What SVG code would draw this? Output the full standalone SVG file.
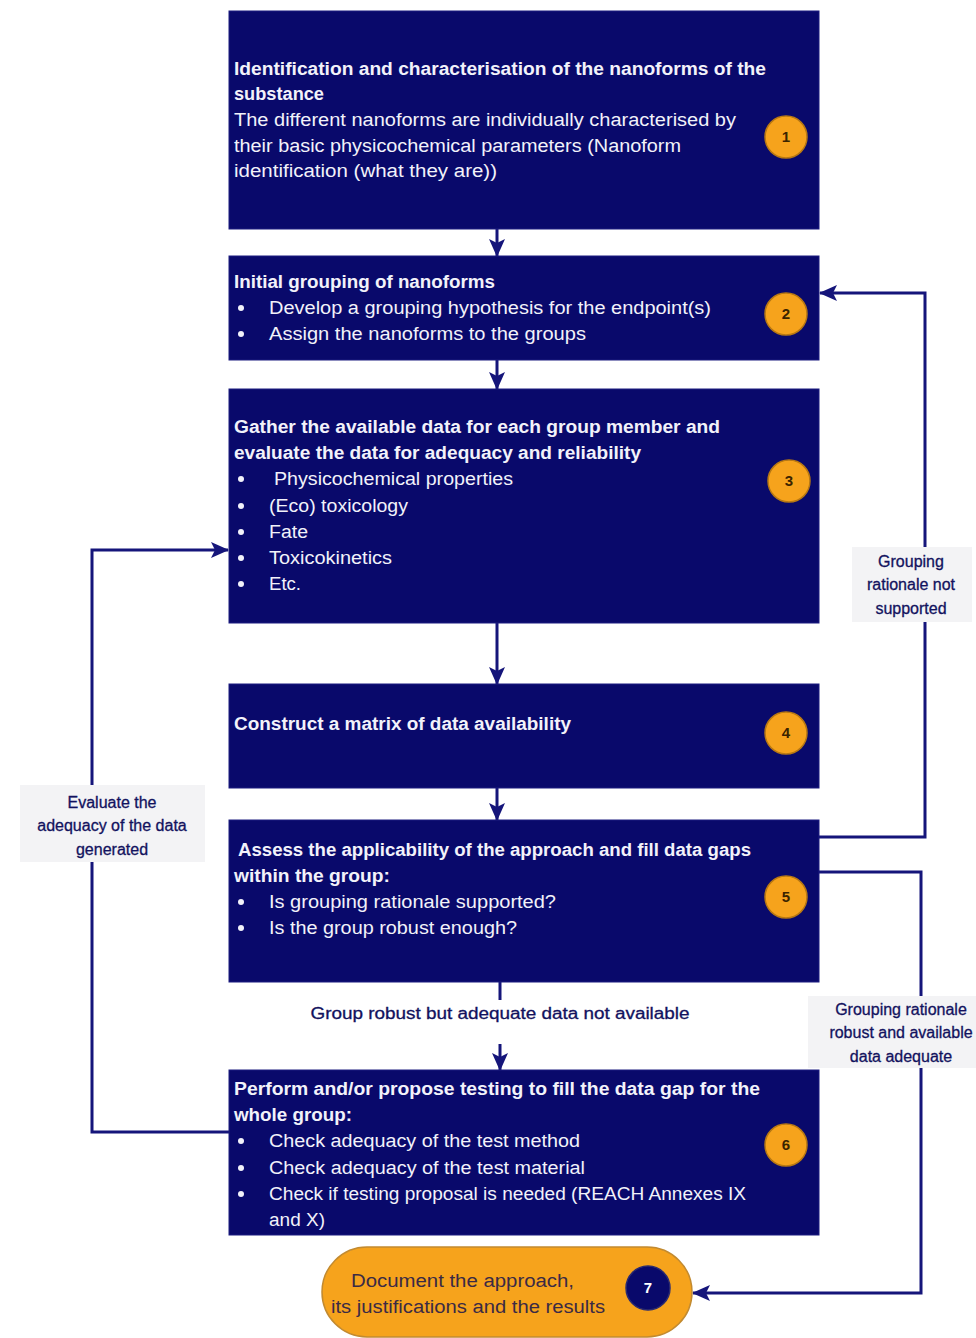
<svg xmlns="http://www.w3.org/2000/svg" width="976" height="1338" viewBox="0 0 976 1338">
<style>
.box{fill:#09096b;stroke:#1c1c80;stroke-width:1}
.t{font-family:"Liberation Sans",Arial,sans-serif;font-size:18px;fill:#f2f2fa}
.b{font-weight:bold}
.dot{fill:#f2f2fa}
.num{fill:#f6a31c;stroke:#b87812;stroke-width:1.5}
.nt{font-family:"Liberation Sans",Arial,sans-serif;font-size:15px;font-weight:bold;fill:#3a2400;text-anchor:middle}
.con{fill:none;stroke:#15157a;stroke-width:3}
.lbg{fill:#f3f3f5}
.lt{font-family:"Liberation Sans",Arial,sans-serif;font-size:16px;fill:#12125e;text-anchor:middle;stroke:#12125e;stroke-width:0.3}
.pt{font-family:"Liberation Sans",Arial,sans-serif;font-size:18px;fill:#3b2a45}
</style>
<defs>
<marker id="ah" markerUnits="userSpaceOnUse" markerWidth="18" markerHeight="18" viewBox="0 0 18 18" refX="17" refY="9" orient="auto">
<path d="M0,1 L18,9 L0,17 L4,9 Z" fill="#15157a"/>
</marker>
</defs>
<rect width="976" height="1338" fill="#ffffff"/>

<g id="connectors">
<line class="con" x1="497" y1="229" x2="497" y2="256" marker-end="url(#ah)"/>
<line class="con" x1="497" y1="360" x2="497" y2="389" marker-end="url(#ah)"/>
<line class="con" x1="497" y1="623" x2="497" y2="684" marker-end="url(#ah)"/>
<line class="con" x1="497" y1="788" x2="497" y2="820" marker-end="url(#ah)"/>
<line class="con" x1="500" y1="982" x2="500" y2="1000"/>
<line class="con" x1="500" y1="1044" x2="500" y2="1070" marker-end="url(#ah)"/>
<polyline class="con" points="819,837 925,837 925,293 820,293" marker-end="url(#ah)"/>
<polyline class="con" points="819,872 921,872 921,1293 693,1293" marker-end="url(#ah)"/>
<polyline class="con" points="229,1132 92,1132 92,550 228,550" marker-end="url(#ah)"/>
</g>

<g id="label-not-supported">
<rect class="lbg" x="852" y="547" width="120" height="75"/>
<text class="lt" x="911" y="567">Grouping</text>
<text class="lt" x="911" y="590">rationale not</text>
<text class="lt" x="911" y="614">supported</text>
</g>
<g id="label-evaluate">
<rect class="lbg" x="20" y="785" width="185" height="77"/>
<text class="lt" x="112" y="808">Evaluate the</text>
<text class="lt" x="112" y="831">adequacy of the data</text>
<text class="lt" x="112" y="855">generated</text>
</g>
<g id="label-adequate">
<rect class="lbg" x="808" y="996" width="168" height="72"/>
<text class="lt" x="901" y="1015">Grouping rationale</text>
<text class="lt" x="901" y="1038">robust and available</text>
<text class="lt" x="901" y="1062">data adequate</text>
</g>
<g id="label-robust">
<text class="lt" x="500" y="1019" textLength="379" lengthAdjust="spacingAndGlyphs">Group robust but  adequate data not available</text>
</g>

<g id="node1">
<rect class="box" x="229" y="11" width="590" height="218"/>
<text class="t b" x="234" y="75" textLength="532" lengthAdjust="spacingAndGlyphs">Identification  and characterisation of the nanoforms of the</text>
<text class="t b" x="234" y="100" textLength="90" lengthAdjust="spacingAndGlyphs">substance</text>
<text class="t" x="234" y="126" textLength="502" lengthAdjust="spacingAndGlyphs">The different nanoforms are individually characterised by</text>
<text class="t" x="234" y="152" textLength="447" lengthAdjust="spacingAndGlyphs">their basic physicochemical parameters (Nanoform</text>
<text class="t" x="234" y="177" textLength="263" lengthAdjust="spacingAndGlyphs">identification (what they are))</text>
<circle class="num" cx="786" cy="137" r="21"/>
<text class="nt" x="786" y="142">1</text>
</g>

<g id="node2">
<rect class="box" x="229" y="256" width="590" height="104"/>
<text class="t b" x="234" y="288" textLength="261" lengthAdjust="spacingAndGlyphs">Initial grouping of nanoforms</text>
<circle class="dot" cx="241" cy="308" r="3"/>
<text class="t" x="269" y="314" textLength="442" lengthAdjust="spacingAndGlyphs">Develop a grouping hypothesis for the endpoint(s)</text>
<circle class="dot" cx="241" cy="334" r="3"/>
<text class="t" x="269" y="340" textLength="317" lengthAdjust="spacingAndGlyphs">Assign the nanoforms to the  groups</text>
<circle class="num" cx="786" cy="314" r="21"/>
<text class="nt" x="786" y="319">2</text>
</g>

<g id="node3">
<rect class="box" x="229" y="389" width="590" height="234"/>
<text class="t b" x="234" y="433" textLength="486" lengthAdjust="spacingAndGlyphs">Gather the available data for each group member  and</text>
<text class="t b" x="234" y="459" textLength="407" lengthAdjust="spacingAndGlyphs">evaluate the data for adequacy and reliability</text>
<circle class="dot" cx="241" cy="479" r="3"/>
<text class="t" x="274" y="485" textLength="239" lengthAdjust="spacingAndGlyphs">Physicochemical properties</text>
<circle class="dot" cx="241" cy="506" r="3"/>
<text class="t" x="269" y="512" textLength="139" lengthAdjust="spacingAndGlyphs">(Eco) toxicology</text>
<circle class="dot" cx="241" cy="532" r="3"/>
<text class="t" x="269" y="538" textLength="39" lengthAdjust="spacingAndGlyphs">Fate</text>
<circle class="dot" cx="241" cy="558" r="3"/>
<text class="t" x="269" y="564" textLength="123" lengthAdjust="spacingAndGlyphs">Toxicokinetics</text>
<circle class="dot" cx="241" cy="584" r="3"/>
<text class="t" x="269" y="590" textLength="32" lengthAdjust="spacingAndGlyphs">Etc.</text>
<circle class="num" cx="789" cy="481" r="21"/>
<text class="nt" x="789" y="486">3</text>
</g>

<g id="node4">
<rect class="box" x="229" y="684" width="590" height="104"/>
<text class="t b" x="234" y="730" textLength="337" lengthAdjust="spacingAndGlyphs">Construct a matrix of data availability</text>
<circle class="num" cx="786" cy="733" r="21"/>
<text class="nt" x="786" y="738">4</text>
</g>

<g id="node5">
<rect class="box" x="229" y="820" width="590" height="162"/>
<text class="t b" x="238" y="856" textLength="513" lengthAdjust="spacingAndGlyphs">Assess the applicability of the approach and fill data gaps</text>
<text class="t b" x="234" y="882" textLength="156" lengthAdjust="spacingAndGlyphs">within the group:</text>
<circle class="dot" cx="241" cy="902" r="3"/>
<text class="t" x="269" y="908" textLength="287" lengthAdjust="spacingAndGlyphs">Is grouping rationale supported?</text>
<circle class="dot" cx="241" cy="928" r="3"/>
<text class="t" x="269" y="934" textLength="248" lengthAdjust="spacingAndGlyphs">Is the group robust enough?</text>
<circle class="num" cx="786" cy="897" r="21"/>
<text class="nt" x="786" y="902">5</text>
</g>

<g id="node6">
<rect class="box" x="229" y="1070" width="590" height="165"/>
<text class="t b" x="234" y="1095" textLength="526" lengthAdjust="spacingAndGlyphs">Perform and/or propose testing to  fill the data gap for the</text>
<text class="t b" x="234" y="1121" textLength="118" lengthAdjust="spacingAndGlyphs">whole group:</text>
<circle class="dot" cx="241" cy="1141" r="3"/>
<text class="t" x="269" y="1147" textLength="311" lengthAdjust="spacingAndGlyphs">Check adequacy of the test method</text>
<circle class="dot" cx="241" cy="1168" r="3"/>
<text class="t" x="269" y="1174" textLength="316" lengthAdjust="spacingAndGlyphs">Check adequacy of the test material</text>
<circle class="dot" cx="241" cy="1194" r="3"/>
<text class="t" x="269" y="1200" textLength="477" lengthAdjust="spacingAndGlyphs">Check if testing proposal is needed (REACH Annexes IX</text>
<text class="t" x="269" y="1226" textLength="56" lengthAdjust="spacingAndGlyphs">and X)</text>
<circle class="num" cx="786" cy="1145" r="21"/>
<text class="nt" x="786" y="1150">6</text>
</g>

<g id="node7">
<rect x="322" y="1247" width="370" height="90" rx="45" ry="45" fill="#f6a31c" stroke="#c28a30" stroke-width="1.5"/>
<text class="pt" x="351" y="1287" textLength="223" lengthAdjust="spacingAndGlyphs">Document  the approach,</text>
<text class="pt" x="331" y="1313" textLength="274" lengthAdjust="spacingAndGlyphs">its justifications and the results</text>
<circle cx="648" cy="1288" r="22" fill="#09096b" stroke="#2a2a70" stroke-width="1.5"/>
<text class="nt" x="648" y="1293" style="fill:#ffffff">7</text>
</g>
</svg>
